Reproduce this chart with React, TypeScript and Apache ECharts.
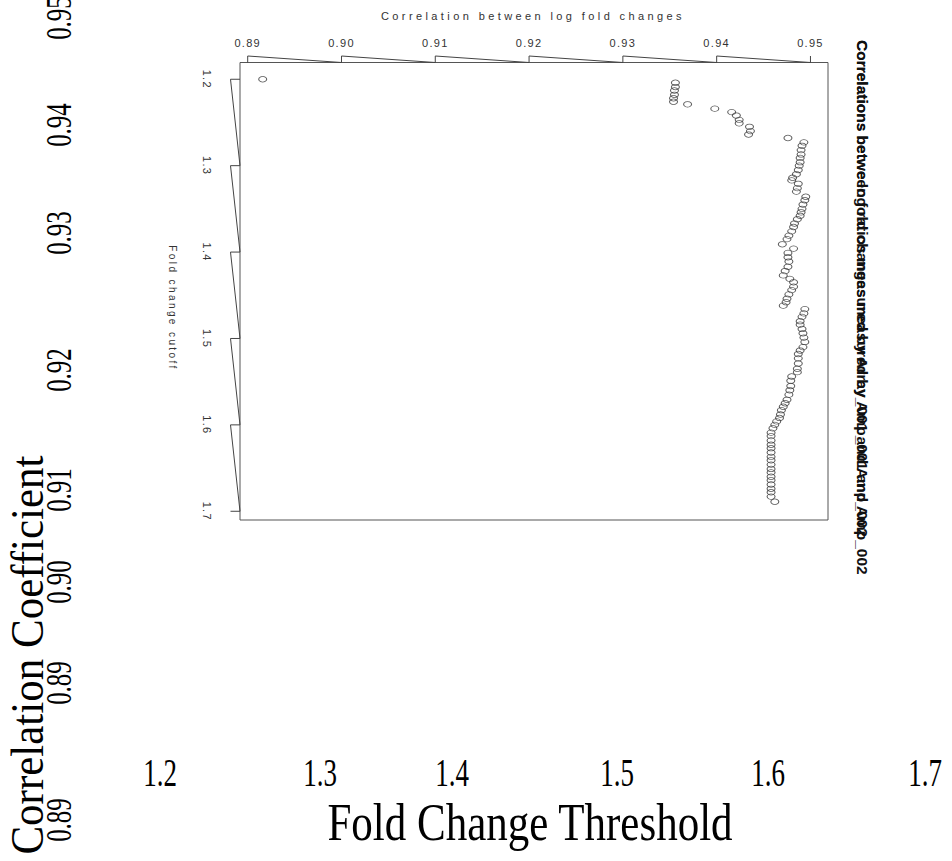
import React, { useEffect, useRef } from "react";
import * as echarts from "echarts";

// ---- data ----
const cutoffs = [
  1.200, 1.204, 1.209, 1.213, 1.218, 1.222, 1.226, 1.229, 1.234, 1.238,
  1.242, 1.247, 1.251, 1.255, 1.260, 1.264, 1.268, 1.273, 1.277, 1.282,
  1.287, 1.291, 1.296, 1.300, 1.305, 1.310, 1.314, 1.317, 1.321, 1.326,
  1.330, 1.336, 1.340, 1.345, 1.350, 1.354, 1.358, 1.362, 1.367, 1.371,
  1.376, 1.381, 1.385, 1.391, 1.396, 1.401, 1.406, 1.411, 1.417, 1.422,
  1.427, 1.431, 1.435, 1.440, 1.444, 1.449, 1.454, 1.458, 1.462, 1.466,
  1.471, 1.475, 1.480, 1.484, 1.489, 1.494, 1.499, 1.504, 1.510, 1.514,
  1.518, 1.523, 1.529, 1.535, 1.539, 1.544, 1.549, 1.555, 1.560, 1.565,
  1.571, 1.575, 1.579, 1.583, 1.588, 1.592, 1.596, 1.600, 1.604, 1.609,
  1.613, 1.618, 1.623, 1.627, 1.632, 1.637, 1.641, 1.646, 1.651, 1.655,
  1.660, 1.664, 1.669, 1.674, 1.678, 1.683, 1.689,
];
const correlations = [
  0.8916, 0.9356, 0.9356, 0.9355, 0.9355, 0.9354, 0.9354, 0.9369, 0.9398, 0.9416,
  0.9421, 0.9424, 0.9424, 0.9435, 0.9436, 0.9434, 0.9476, 0.9493, 0.9491, 0.9490,
  0.9490, 0.9489, 0.9489, 0.9488, 0.9487, 0.9485, 0.9481, 0.9480, 0.9487, 0.9486,
  0.9485, 0.9495, 0.9494, 0.9492, 0.9491, 0.9490, 0.9489, 0.9486, 0.9483, 0.9482,
  0.9480, 0.9477, 0.9475, 0.9470, 0.9482, 0.9476, 0.9476, 0.9477, 0.9476, 0.9473,
  0.9471, 0.9478, 0.9482, 0.9482, 0.9480, 0.9477, 0.9475, 0.9474, 0.9471, 0.9494,
  0.9493, 0.9491, 0.9489, 0.9489, 0.9491, 0.9492, 0.9493, 0.9494, 0.9492, 0.9489,
  0.9487, 0.9487, 0.9487, 0.9486, 0.9486, 0.9480, 0.9479, 0.9479, 0.9478, 0.9477,
  0.9475, 0.9473, 0.9471, 0.9469, 0.9468, 0.9467, 0.9464, 0.9462, 0.9460, 0.9458,
  0.9458, 0.9458, 0.9458, 0.9458, 0.9458, 0.9458, 0.9458, 0.9458, 0.9458, 0.9458,
  0.9458, 0.9458, 0.9458, 0.9458, 0.9458, 0.9458, 0.9462,
];
const topTicks = [0.89, 0.9, 0.91, 0.92, 0.93, 0.94, 0.95];
const leftTicks = [1.2, 1.3, 1.4, 1.5, 1.6, 1.7];
const outerXLabels = ["1.2", "1.3", "1.4", "1.5", "1.6", "1.7"];
const outerYLabels = ["0.95", "0.94", "0.93", "0.92", "0.91", "0.90", "0.89", "0.89"];
const innerTitle = "Correlation between log fold changes";
const innerYName = "Fold change cutoff";
const sideTitleA = "Correlations between fold changes measured by Amp_001 and Amp_002";
const sideTitleB = "Correlations betwe log ratios measured by Array_001 and Amp_002";
const outerXName = "Fold Change Threshold";
const outerYName = "Correlation Coefficient";

// ---- axis ranges ----
const X_MIN = 0.88918;
const X_MAX = 0.95187;
const Y_MIN = 1.1806;
const Y_MAX = 1.7101;

// ---- layout (positions only) ----
const GRID = { left: 240, top: 62.5, width: 588, height: 457.5 };
const outerXLabelX = [160, 320, 452, 617, 768, 925];
const outerXLabelY = 772;
const outerYLabelY = [18, 125, 233, 370, 490, 582, 683, 820];
const outerYLabelX = 59;

export default function App() {
  const ref = useRef<HTMLDivElement>(null);

  useEffect(() => {
    const el = ref.current as HTMLDivElement;
    const chart = echarts.init(el, null, { renderer: "svg", width: 952, height: 861 });
    chart.setOption({
      animation: false,
      grid: {
        ...GRID,
        show: true,
        borderColor: "#555",
        borderWidth: 1,
        backgroundColor: "transparent",
        containLabel: false,
        outerBoundsMode: "none",
      },
      xAxis: {
        type: "value",
        position: "top",
        min: X_MIN,
        max: X_MAX,
        axisLine: { show: false },
        axisTick: { show: false },
        splitLine: { show: false },
        axisLabel: {
          customValues: topTicks,
          formatter: (v: number) => v.toFixed(2),
          margin: 14,
          fontSize: 11,
          color: "#333",
          fontFamily: "Liberation Sans",
          hideOverlap: false,
        },
      },
      yAxis: {
        type: "value",
        inverse: true,
        min: Y_MIN,
        max: Y_MAX,
        axisLine: { show: false },
        axisTick: { show: false },
        axisLabel: { show: false },
        splitLine: { show: false },
      },
      series: [
        {
          type: "scatter",
          silent: true,
          symbol: "circle",
          symbolSize: [8, 5.5],
          data: correlations.map((c, i) => [c, cutoffs[i]]),
          itemStyle: { color: "rgba(0,0,0,0)", borderColor: "#333", borderWidth: 0.9 },
        },
      ],
    });

    const px = (x: number, y: number) =>
      chart.convertToPixel({ gridIndex: 0 }, [x, y]) as number[];
    const top = px(X_MIN, Y_MIN)[1];
    const left = px(X_MIN, Y_MIN)[0];
    const lineStyle = { stroke: "#444", lineWidth: 1, fill: null };
    const elements: any[] = [];

    // top sawtooth ticks
    topTicks.forEach((t, i) => {
      const x = px(t, Y_MIN)[0];
      if (i < topTicks.length - 1) {
        const xn = px(topTicks[i + 1], Y_MIN)[0];
        elements.push({
          type: "polyline",
          silent: true,
          shape: { points: [[x, top], [x, top - 6.5], [xn, top]] },
          style: lineStyle,
        });
      } else {
        elements.push({
          type: "line",
          silent: true,
          shape: { x1: x, y1: top, x2: x, y2: top - 6.5 },
          style: lineStyle,
        });
      }
    });

    // left sawtooth ticks + labels
    leftTicks.forEach((t, i) => {
      const y = px(X_MIN, t)[1];
      if (i < leftTicks.length - 1) {
        const yn = px(X_MIN, leftTicks[i + 1])[1];
        elements.push({
          type: "polyline",
          silent: true,
          shape: { points: [[left, y], [left - 9.5, y], [left, yn]] },
          style: lineStyle,
        });
      } else {
        elements.push({
          type: "line",
          silent: true,
          shape: { x1: left, y1: y, x2: left - 9.5, y2: y },
          style: lineStyle,
        });
      }
      elements.push({
        type: "text",
        silent: true,
        x: 207,
        y,
        rotation: -Math.PI / 2,
        style: {
          text: t.toFixed(1),
          fontSize: 11,
          fontFamily: "Liberation Sans",
          fill: "#333",
          align: "center",
          verticalAlign: "middle",
        },
      });
    });

    elements.push({
      type: "text",
      silent: true,
      x: 172,
      y: 308,
      rotation: -Math.PI / 2,
      style: {
        text: innerYName,
        fontSize: 10,
        fontFamily: "Liberation Sans",
        fill: "#333",
        align: "center",
        verticalAlign: "middle",
      },
    });
    elements.push({
      type: "text",
      silent: true,
      x: 533,
      y: 16,
      style: {
        text: innerTitle,
        fontSize: 11,
        fontFamily: "Liberation Sans",
        fill: "#333",
        align: "center",
        verticalAlign: "middle",
      },
    });
    [sideTitleA, sideTitleB].forEach((s) =>
      elements.push({
        type: "text",
        silent: true,
        x: 862,
        y: 40,
        rotation: -Math.PI / 2,
        style: {
          text: s,
          fontSize: 15.5,
          fontWeight: "bold",
          fontFamily: "Liberation Sans",
          fill: "#111",
          align: "left",
          verticalAlign: "middle",
        },
      })
    );

    // outer serif layer
    outerXLabels.forEach((s, i) =>
      elements.push({
        type: "text",
        silent: true,
        x: outerXLabelX[i],
        y: outerXLabelY,
        scaleY: 1.5,
        style: {
          text: s,
          fontSize: 27,
          fontFamily: "Liberation Serif",
          fill: "#000",
          align: "center",
          verticalAlign: "middle",
        },
      })
    );
    elements.push({
      type: "text",
      silent: true,
      x: 530,
      y: 822,
      scaleY: 1.25,
      style: {
        text: outerXName,
        fontSize: 43,
        fontFamily: "Liberation Serif",
        fill: "#000",
        align: "center",
        verticalAlign: "middle",
      },
    });
    outerYLabels.forEach((s, i) =>
      elements.push({
        type: "text",
        silent: true,
        x: outerYLabelX,
        y: outerYLabelY[i],
        rotation: Math.PI / 2,
        scaleY: 1.4,
        style: {
          text: s,
          fontSize: 25,
          fontFamily: "Liberation Serif",
          fill: "#000",
          align: "center",
          verticalAlign: "middle",
        },
      })
    );
    elements.push({
      type: "text",
      silent: true,
      x: 27,
      y: 655,
      rotation: Math.PI / 2,
      scaleY: 1.1,
      style: {
        text: outerYName,
        fontSize: 43,
        fontFamily: "Liberation Serif",
        fill: "#000",
        align: "center",
        verticalAlign: "middle",
      },
    });

    chart.setOption({ graphic: { elements } });

    const applySpacing = () => {
      el.querySelectorAll("text").forEach((t) => {
        const s = t.textContent || "";
        const fs = parseFloat(getComputedStyle(t).fontSize);
        if (fs <= 11.5) {
          let ls = 1.3;
          if (s === innerTitle) ls = 3.4;
          else if (s === innerYName) ls = 2.4;
          (t as SVGTextElement).style.letterSpacing = ls + "px";
        }
      });
    };
    chart.on("finished", applySpacing);
    const timers = [0, 100, 400].map((d) => window.setTimeout(applySpacing, d));

    return () => {
      timers.forEach((t) => window.clearTimeout(t));
      chart.dispose();
    };
  }, []);

  return (
    <div
      ref={ref}
      style={{ position: "absolute", left: 0, top: 0, width: 952, height: 861 }}
    />
  );
}
